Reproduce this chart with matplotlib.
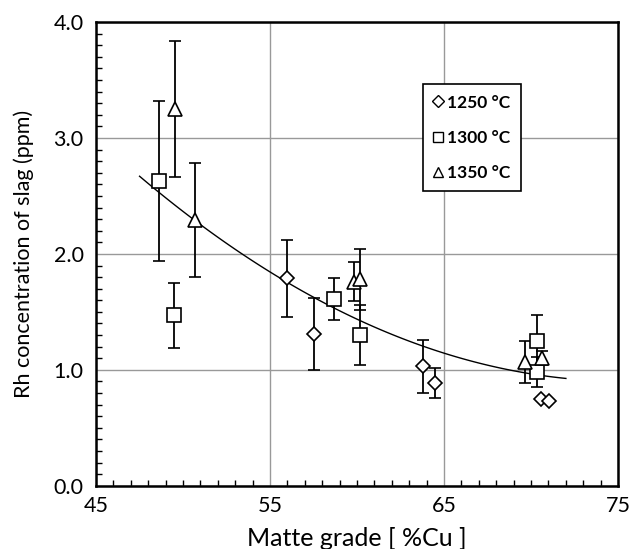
import numpy as np
import matplotlib
matplotlib.use("Agg")
import matplotlib.pyplot as plt
from matplotlib.lines import Line2D
from matplotlib.ticker import MultipleLocator

plt.rcParams['font.family'] = ['Lato', 'DejaVu Sans']

# data
x_1250 = [56.0, 57.55, 63.8, 64.45, 70.55, 71.05]
y_1250 = [1.79, 1.31, 1.03, 0.885, 0.75, 0.73]
e_1250 = [0.33, 0.31, 0.23, 0.13, 0.0, 0.0]

x_1300 = [48.6, 49.5, 58.7, 60.15, 70.35, 70.35]
y_1300 = [2.63, 1.47, 1.61, 1.30, 1.25, 0.98]
e_1300 = [0.69, 0.28, 0.18, 0.26, 0.22, 0.13]

x_1350 = [49.55, 50.7, 59.8, 60.15, 69.65, 70.6]
y_1350 = [3.25, 2.29, 1.76, 1.78, 1.07, 1.10]
e_1350 = [0.59, 0.49, 0.17, 0.26, 0.18, 0.06]

labels = ['1250 °C', '1300 °C', '1350 °C']
markers = ['D', 's', '^']
msizes = [7.5, 10, 10]

fig = plt.figure(figsize=(6.32, 5.49), dpi=100)
ax = fig.add_axes([0.152, 0.115, 0.826, 0.845])

# trend line (2nd order polynomial through all points)
x_all = np.array(x_1250 + x_1300 + x_1350)
y_all = np.array(y_1250 + y_1300 + y_1350)
coef = np.polyfit(x_all, y_all, 2)
xs = np.linspace(47.5, 72.0, 100)
ax.plot(xs, np.polyval(coef, xs), color='black', lw=1.0, zorder=2)

series = [(x_1250, y_1250, e_1250), (x_1300, y_1300, e_1300), (x_1350, y_1350, e_1350)]
for (xv, yv, ev), m, ms in zip(series, markers, msizes):
    ax.errorbar(xv, yv, yerr=ev, fmt=m, ms=ms, mfc='white', mec='black', mew=1.2,
                ecolor='black', elinewidth=1.3, capsize=4, capthick=1.3, zorder=3)

ax.set_xlim(45, 75)
ax.set_ylim(0, 4.0)
ax.set_xticks([45, 55, 65, 75])
ax.set_yticks([0, 1, 2, 3, 4])
ax.set_yticklabels(['0.0', '1.0', '2.0', '3.0', '4.0'])
ax.xaxis.set_minor_locator(MultipleLocator(1))
ax.yaxis.set_minor_locator(MultipleLocator(0.1))
ax.tick_params(which='both', direction='in', top=False, right=False)
ax.tick_params(which='major', length=0, labelsize=15.5)
ax.tick_params(axis='x', which='major', pad=7)
ax.tick_params(axis='y', which='major', pad=9)
ax.tick_params(which='minor', length=4, width=1)
ax.grid(True, which='major', color='#999999', lw=1)
for s in ax.spines.values():
    s.set_linewidth(1.8)
    s.set_color('black')

ax.set_xlabel('Matte grade [ %Cu ]', fontsize=18, labelpad=8)
ax.set_ylabel('Rh concentration of slag (ppm)', fontsize=15.5, labelpad=14)

handles = [Line2D([], [], ls='none', marker=m, ms=ms * 0.75, mfc='white', mec='black', mew=1.0)
           for m, ms in zip(markers, msizes)]
leg = ax.legend(handles, labels, loc='upper left', bbox_to_anchor=(0.626, 0.866),
                borderaxespad=0,
                frameon=True, fancybox=False, edgecolor='black', framealpha=1,
                handlelength=0.6, handletextpad=0.2, labelspacing=1.1, borderpad=0.6,
                prop={'family': ['Lato', 'DejaVu Sans'], 'weight': 'bold', 'size': 12.5})
leg.get_frame().set_linewidth(1.2)

fig.savefig('out.png', dpi=100)
